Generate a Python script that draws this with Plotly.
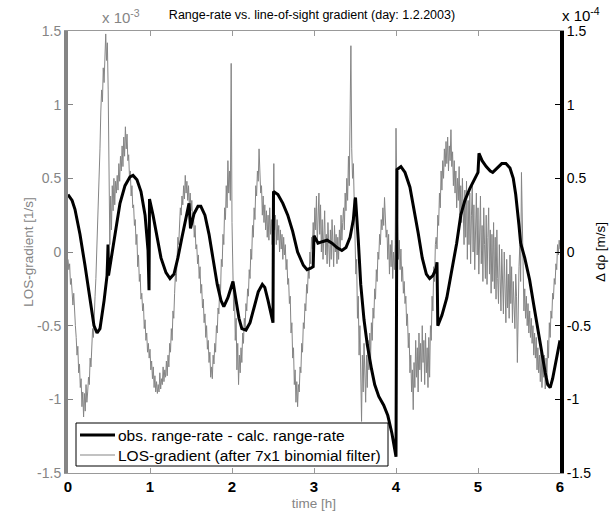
import plotly.graph_objects as go

# ---------------- data ----------------
# LOS-gradient (after 7x1 binomial filter), units of 1e-3 1/s, sampled every 0.01 h
# (one row = 0.1 h)
LOS_V = [
    -0.05, -0.12, -0.08, -0.22, -0.18, -0.30, -0.36, -0.28, -0.45, -0.50,
    -0.58, -0.70, -0.64, -0.82, -0.76, -0.92, -0.86, -1.05, -0.95, -1.12,
    -0.96, -1.08, -0.90, -1.02, -0.95, -0.85, -0.90, -0.72, -0.78, -0.60,
    -0.52, -0.58, -0.38, -0.30, -0.18, -0.02, 0.10, 0.25, 0.48, 0.70,
    0.95, 1.10, 1.02, 1.25, 1.15, 1.38, 1.48, 1.30, 1.42, 1.10,
    0.20, 0.05, 0.38, 0.15, 0.45, 0.28, 0.50, 0.32, 0.48, 0.40,
    0.52, 0.42, 0.60, 0.48, 0.65, 0.55, 0.72, 0.58, 0.78, 0.65,
    0.85, 0.70, 0.80, 0.62, 0.66, 0.50, 0.55, 0.38, 0.45, 0.30,
    0.32, 0.18, 0.22, 0.05, 0.12, -0.10, -0.02, -0.20, -0.15, -0.32,
    -0.28, -0.40, -0.35, -0.52, -0.46, -0.60, -0.55, -0.68, -0.62, -0.72,
    -0.66, -0.80, -0.74, -0.86, -0.78, -0.92, -0.84, -0.95, -0.88, -0.96,
    -0.90, -0.95, -0.82, -0.93, -0.86, -0.90, -0.78, -0.88, -0.80, -0.85,
    -0.74, -0.84, -0.70, -0.78, -0.62, -0.68, -0.52, -0.60, -0.40, -0.45,
    -0.28, -0.15, -0.20, 0.00, 0.10, 0.05, 0.22, 0.30, 0.25, 0.38,
    0.32, 0.45, 0.36, 0.52, 0.40, 0.48, 0.35, 0.45, 0.30, 0.40,
    0.28, 0.35, 0.20, 0.25, 0.10, 0.18, 0.02, 0.05, -0.08, -0.02,
    -0.18, -0.10, -0.28, -0.22, -0.38, -0.32, -0.48, -0.42, -0.58, -0.50,
    -0.66, -0.60, -0.75, -0.68, -0.85, -0.78, -0.86, -0.70, -0.76, -0.62,
    -0.68, -0.50, -0.55, -0.38, -0.42, -0.22, -0.28, -0.05, -0.10, 0.12,
    0.05, 0.30, 0.22, 0.45, 0.30, 0.62, 0.40, 0.55, 0.35, 1.28,
    0.20, -0.10, -0.40, -0.25, -0.60, -0.45, -0.80, -0.62, -0.90, -0.70,
    -0.82, -0.65, -0.75, -0.55, -0.62, -0.45, -0.52, -0.35, -0.40, -0.25,
    -0.30, -0.12, -0.18, 0.02, -0.05, 0.18, 0.10, 0.30, 0.22, 0.45,
    0.38, 0.55, 0.48, 0.70, 0.52, 0.40, 0.45, 0.25, 0.38, 0.20,
    0.32, 0.15, 0.28, 0.10, 0.25, 0.08, 0.30, 0.12, 0.22, 0.05,
    0.20, 0.60, 0.15, 0.25, 0.05, 0.22, 0.08, 0.18, 0.00, 0.15,
    0.02, 0.12, -0.05, 0.10, -0.02, 0.05, -0.12, -0.05, -0.22, -0.18,
    -0.35, -0.30, -0.55, -0.48, -0.72, -0.65, -0.90, -0.80, -1.02, -0.88,
    -1.05, -0.90, -0.95, -0.78, -0.82, -0.62, -0.68, -0.48, -0.52, -0.35,
    -0.40, -0.22, -0.28, -0.12, -0.18, 0.00, -0.08, 0.10, 0.02, 0.20,
    0.08, 0.30, 0.15, 0.38, 0.05, 0.25, 0.40, 0.12, 0.32, 0.00,
    0.22, -0.05, 0.15, 0.28, -0.02, 0.12, -0.08, 0.20, 0.05, -0.10,
    0.15, -0.05, 0.22, 0.02, -0.10, 0.18, 0.00, 0.12, -0.08, 0.10,
    -0.05, 0.15, 0.02, 0.25, 0.08, 0.20, 0.30, 0.15, 0.40, 0.28,
    0.50, 0.35, 0.65, 0.45, 0.90, 1.40, 0.70, 0.50, 0.60, 0.35,
    0.10, -0.15, -0.05, -0.45, -0.30, -0.70, -0.50, -0.90, -1.15, -0.70,
    -0.95, -0.62, -0.85, -1.02, -0.70, -0.92, -0.60, -0.80, -0.55, -0.72,
    -0.48, -0.60, -0.38, -0.45, -0.25, -0.32, -0.12, -0.20, 0.00, -0.05,
    0.12, 0.05, 0.22, 0.15, 0.30, 0.18, 0.37, 0.25, 0.10, 0.15,
    -0.05, 0.12, -0.15, 0.05, -0.10, 0.08, -0.18, 0.00, -0.12, 0.05,
    0.84, 0.40, 0.05, -0.05, 0.08, -0.12, 0.02, -0.20, -0.10, -0.28,
    -0.20, -0.35, -0.30, -0.50, -0.42, -0.65, -0.55, -0.82, -0.70, -0.95,
    -0.80, -1.07, -0.75, -0.92, -0.60, -0.85, -0.65, -0.95, -0.55, -0.80,
    -0.62, -0.88, -0.50, -0.75, -0.60, -0.90, -0.55, -0.82, -0.65, -0.92,
    -0.58, -0.85, -0.50, -0.60, -0.30, -0.40, -0.10, -0.20, 0.05, 0.10,
    0.02, 0.25, 0.18, 0.40, 0.30, 0.55, 0.42, 0.62, 0.50, 0.70,
    0.58, 0.75, 0.60, 0.78, 0.55, 0.72, 0.62, 0.83, 0.58, 0.68,
    0.45, 0.62, 0.40, 0.55, 0.30, 0.50, 0.35, 0.58, 0.25, 0.45,
    0.20, 0.50, 0.28, 0.05, 0.42, 0.10, 0.48, -0.05, 0.35, 0.05,
    0.40, -0.08, 0.25, 0.45, 0.00, 0.32, -0.12, 0.25, 0.40, -0.02,
    0.30, -0.15, 0.20, 0.38, -0.08, 0.18, -0.20, 0.30, 0.05, -0.18,
    0.25, -0.22, 0.10, 0.30, -0.15, 0.15, -0.28, 0.12, -0.20, 0.20,
    -0.25, 0.10, -0.32, 0.15, -0.18, -0.35, 0.05, -0.22, -0.40, 0.02,
    -0.28, -0.42, 0.00, -0.35, -0.48, -0.05, -0.38, -0.15, -0.45, -0.02,
    -0.35, -0.10, -0.48, -0.20, -0.40, -0.52, -0.15, -0.30, -0.75, -0.25,
    -0.10, 0.05, -0.20, 0.54, 0.10, -0.15, -0.40, -0.25, -0.45, -0.30,
    -0.50, -0.35, -0.55, -0.40, -0.58, -0.45, -0.62, -0.50, -0.70, -0.55,
    -0.72, -0.58, -0.80, -0.65, -0.82, -0.70, -0.88, -0.68, -0.92, -0.75,
    -0.85, -0.70, -0.93, -0.72, -0.85, -0.60, -0.72, -0.48, -0.58, -0.40,
    -0.45, -0.28, -0.32, -0.18, -0.22, -0.08, -0.12, 0.05, -0.02, 0.08,
    0.02,
]
LOS_T = [round(0.01 * i, 2) for i in range(len(LOS_V))]

# obs. range-rate - calc. range-rate, units of 1e-4 m/s
RR_T = [
    0.00, 0.05, 0.085, 0.146, 0.207, 0.268, 0.317, 0.354, 0.39, 0.44,
    0.476, 0.482, 0.488, 0.494, 0.537, 0.585, 0.634, 0.695, 0.756, 0.793,
    0.841, 0.89, 0.94, 0.976, 0.988, 0.994, 1.037, 1.085, 1.134, 1.195,
    1.244, 1.293, 1.34, 1.39, 1.44, 1.476, 1.494, 1.537, 1.585, 1.62,
    1.67, 1.72, 1.77, 1.82, 1.866, 1.90, 1.95, 1.99, 2.012, 2.05,
    2.085, 2.12, 2.17, 2.22, 2.27, 2.32, 2.37, 2.40, 2.44, 2.48,
    2.50, 2.506, 2.56, 2.62, 2.68, 2.74, 2.80, 2.87, 2.915, 2.96,
    2.99, 3.00, 3.05, 3.10, 3.16, 3.22, 3.28, 3.34, 3.39, 3.44,
    3.48, 3.50, 3.506, 3.54, 3.57, 3.61, 3.65, 3.70, 3.74, 3.79,
    3.85, 3.90, 3.95, 4.00, 4.012, 4.06, 4.11, 4.17, 4.22, 4.27,
    4.32, 4.37, 4.41, 4.45, 4.49, 4.50, 4.51, 4.56, 4.62, 4.68,
    4.74, 4.79, 4.84, 4.90, 4.96, 5.00, 5.012, 5.05, 5.10, 5.15,
    5.18, 5.23, 5.29, 5.34, 5.39, 5.43, 5.46, 5.50, 5.51, 5.52,
    5.57, 5.63, 5.68, 5.73, 5.78, 5.82, 5.85, 5.88, 5.91, 5.95,
    5.99, 6.00,
]
RR_V = [
    0.39, 0.35, 0.29, 0.12, -0.09, -0.33, -0.50, -0.55, -0.52, -0.33,
    -0.16, -0.07, 0.05, -0.16, -0.02, 0.16, 0.33, 0.45, 0.51, 0.52,
    0.49, 0.41, 0.25, 0.01, -0.26, 0.36, 0.25, 0.10, -0.04, -0.14,
    -0.18, -0.15, -0.04, 0.10, 0.25, 0.33, 0.16, 0.26, 0.31, 0.31,
    0.25, 0.12, -0.05, -0.22, -0.33, -0.37, -0.31, -0.24, -0.20, -0.33,
    -0.45, -0.52, -0.53, -0.48, -0.38, -0.27, -0.22, -0.24, -0.33, -0.43,
    -0.48, 0.41, 0.39, 0.33, 0.25, 0.14, 0.00, -0.09, -0.12, -0.11,
    -0.10, 0.11, 0.06, 0.07, 0.08, 0.06, 0.03, 0.01, 0.03, 0.10,
    0.22, 0.35, 0.37, 0.08, -0.22, -0.46, -0.63, -0.79, -0.90, -0.98,
    -1.04, -1.11, -1.23, -1.39, 0.56, 0.58, 0.54, 0.44, 0.29, 0.13,
    -0.04, -0.15, -0.18, -0.16, -0.11, -0.07, -0.50, -0.43, -0.31, -0.12,
    0.06, 0.25, 0.35, 0.43, 0.49, 0.54, 0.67, 0.62, 0.58, 0.55,
    0.54, 0.57, 0.60, 0.60, 0.57, 0.50, 0.39, 0.18, 0.08, 0.06,
    -0.04, -0.19, -0.36, -0.53, -0.70, -0.82, -0.90, -0.92, -0.86, -0.75,
    -0.63, -0.60,
]

X_TICKS = [0, 1, 2, 3, 4, 5, 6]
Y_TICKS = [1.5, 1, 0.5, 0, -0.5, -1, -1.5]
Y_TICKTEXT = ["1.5", "1", "0.5", "0", "-0.5", "-1", "-1.5"]

NAME_RR = "obs. range-rate - calc. range-rate"
NAME_LOS = "LOS-gradient (after 7x1 binomial filter)"

GREY = "#858585"
FONT = "Liberation Sans"

fig = go.Figure()
fig.add_trace(go.Scatter(
    x=LOS_T, y=LOS_V, mode="lines", yaxis="y",
    line=dict(color=GREY, width=1), name=NAME_LOS, showlegend=False,
))
fig.add_trace(go.Scatter(
    x=RR_T, y=RR_V, mode="lines", yaxis="y2",
    line=dict(color="black", width=3), name=NAME_RR, showlegend=False,
))

# plot area in pixels: left 68, right 560, top 31, bottom 473 (492 x 442)
PW, PH = 492.0, 442.0


def px(x):  # pixel offset from plot-left -> paper x
    return x / PW


def py(y):  # pixel offset from plot-bottom -> paper y
    return y / PH


# legend box (drawn in paper coordinates)
LEG_L, LEG_R, LEG_B, LEG_T = 8, 320, 7, 50
shapes = [
    dict(type="rect", xref="paper", yref="paper",
         x0=px(LEG_L), x1=px(LEG_R), y0=py(LEG_B), y1=py(LEG_T),
         line=dict(color="black", width=1), fillcolor="white", layer="above"),
    dict(type="line", xref="paper", yref="paper",
         x0=px(12), x1=px(47), y0=py(38), y1=py(38),
         line=dict(color="black", width=3), layer="above"),
    dict(type="line", xref="paper", yref="paper",
         x0=px(12), x1=px(47), y0=py(18), y1=py(18),
         line=dict(color=GREY, width=1), layer="above"),
]
legend_text = [
    dict(text=NAME_RR, xref="paper", yref="paper", x=px(48), y=py(38),
         xanchor="left", yanchor="middle", showarrow=False,
         font=dict(family=FONT, size=15.5, color="black")),
    dict(text=NAME_LOS, xref="paper", yref="paper", x=px(48), y=py(18),
         xanchor="left", yanchor="middle", showarrow=False,
         font=dict(family=FONT, size=15.5, color="black")),
]

fig.update_layout(
    width=613, height=512, autosize=False,
    margin=dict(l=68, r=53, t=31, b=39),
    paper_bgcolor="white", plot_bgcolor="white",
    font=dict(family=FONT, size=13, color="black"),
    title=dict(
        text="Range-rate vs. line-of-sight gradient (day: 1.2.2003)",
        x=(312 - 68) / PW, xref="paper", xanchor="center",
        y=1 - 15 / 512, yanchor="middle",
        font=dict(family=FONT, size=12.5, color="black"),
    ),
    xaxis=dict(
        range=[0, 6], tickvals=X_TICKS, ticks="inside", ticklen=5,
        tickcolor="#999999", showline=True, linecolor="#999999", linewidth=1,
        mirror="ticks", showgrid=False, zeroline=False, automargin=False,
        tickfont=dict(family=FONT, size=15, color="black", weight="bold"),
        title=dict(text="time [h]", font=dict(family=FONT, size=13.5, color=GREY),
                   standoff=4),
    ),
    yaxis=dict(
        range=[-1.5, 1.5], tickvals=Y_TICKS, ticktext=Y_TICKTEXT,
        ticks="inside", ticklen=5, tickcolor=GREY,
        showline=True, linecolor=GREY, linewidth=4,
        showgrid=False, zeroline=False, automargin=False,
        tickfont=dict(family=FONT, size=14, color=GREY),
        title=dict(text="LOS-gradient [1/s]",
                   font=dict(family=FONT, size=13.5, color=GREY), standoff=1),
    ),
    yaxis2=dict(
        range=[-1.5, 1.5], tickvals=Y_TICKS, ticktext=Y_TICKTEXT,
        overlaying="y", side="right", anchor="x",
        ticks="inside", ticklen=5, tickcolor="black",
        showline=True, linecolor="black", linewidth=4,
        showgrid=False, zeroline=False, automargin=False,
        tickfont=dict(family=FONT, size=14, color="black"),
        title=dict(text="Δ dρ [m/s]",
                   font=dict(family=FONT, size=13.5, color="black"), standoff=6),
    ),
    showlegend=False,
    shapes=shapes,
    annotations=legend_text + [
        dict(text="x 10<sup>-3</sup>", xref="paper", yref="paper",
             x=(100 - 68) / PW, y=1, xanchor="left", yanchor="bottom",
             yshift=3, showarrow=False,
             font=dict(family=FONT, size=15, color=GREY)),
        dict(text="x 10<sup>-4</sup>", xref="paper", yref="paper",
             x=1, y=1, xanchor="left", yanchor="bottom", yshift=5,
             showarrow=False, font=dict(family=FONT, size=15, color="black")),
    ],
)

fig.write_html("out.html")
